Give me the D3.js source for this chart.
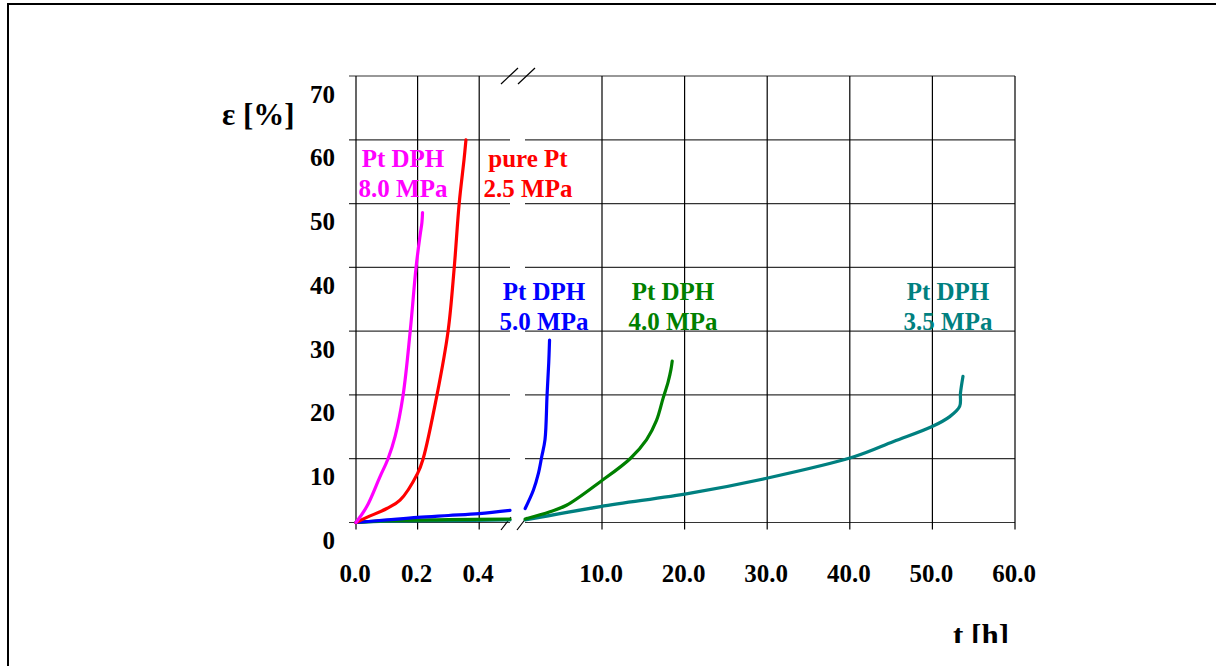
<!DOCTYPE html>
<html>
<head>
<meta charset="utf-8">
<script src="https://cdn.jsdelivr.net/npm/d3@7"></script>
<style>
  body { margin: 0; background: #fff; }
</style>
</head>
<body>
<div id="chart"></div>
<script>
// tick labels
var yTicks = [0, 10, 20, 30, 40, 50, 60, 70];
var xTicksLeft = [0.0, 0.2, 0.4];
var xTicksRight = [10, 20, 30, 40, 50, 60];

// series: [t in h, strain in %]; "left" part is the 0..0.5 h zoom, "right" the 0..60 h part
var magentaLeft = [[0, 0], [0.035, 2.5], [0.078, 7.2], [0.104, 10], [0.127, 13.5], [0.153, 20], [0.176, 30], [0.195, 40], [0.208, 45], [0.214, 47], [0.216, 48.6]];
var redLeft = [[0, 0], [0.035, 0.8], [0.1, 2.2], [0.143, 3.5], [0.2, 7.7], [0.218, 10], [0.263, 20], [0.299, 30], [0.319, 40], [0.335, 50], [0.351, 57], [0.357, 60]];
var blueLeft = [[0, 0], [0.1, 0.4], [0.2, 0.8], [0.3, 1.1], [0.4, 1.4], [0.5, 1.9]];
var blueRight = [[0.7, 2.2], [1.7, 5.1], [2.3, 7.7], [2.7, 10.3], [3.1, 13], [3.35, 20], [3.55, 25], [3.65, 28.6]];
var greenLeft = [[0, 0], [0.1, 0.3], [0.3, 0.45], [0.5, 0.55]];
var greenRight = [[0.7, 0.55], [3.7, 1.7], [5.7, 2.7], [9.8, 6.4], [13.4, 10], [15.4, 13], [16.6, 16], [17.4, 19.5], [18.0, 22], [18.35, 24], [18.5, 25.3]];
var tealLeft = [[0, 0], [0.1, 0.2], [0.3, 0.3], [0.5, 0.4]];
var tealRight = [[0.7, 0.4], [9.8, 2.5], [20.7, 4.6], [29.8, 6.9], [40.5, 10.3], [45.3, 12.7], [49.9, 15.0], [52.1, 16.6], [53.3, 18.2], [53.4, 20.3], [53.7, 22.9]];

var labels = [
    {lines: ["Pt DPH", "8.0 MPa"], color: "#ff00ff", x: 403, y: 167},
    {lines: ["pure Pt", "2.5 MPa"], color: "#ff0000", x: 528, y: 167},
    {lines: ["Pt DPH", "5.0 MPa"], color: "#0000ff", x: 544, y: 300},
    {lines: ["Pt DPH", "4.0 MPa"], color: "#008000", x: 673, y: 300},
    {lines: ["Pt DPH", "3.5 MPa"], color: "#008080", x: 948, y: 300}
];

(function() {
    var width = 1216, height = 666;
    var svg = d3.select("#chart")
        .append("svg")
        .attr("width", width)
        .attr("height", height)
        .attr("font-family", "'Liberation Serif', 'Times New Roman', serif")
        .attr("font-weight", "bold");

    // outer frame (only top and left edges visible)
    svg.append("path")
        .attr("d", "M8,666 L8,4 L1216,4")
        .attr("fill", "none")
        .attr("stroke", "#000")
        .attr("stroke-width", 2);

    var y = d3.scaleLinear().domain([0, 70]).range([522.5, 76]);
    var xL = d3.scaleLinear().domain([0, 0.5]).range([356, 510]);
    var xR = d3.scaleLinear().domain([0, 60]).range([519.4, 1015]);
    var gapStart = 510, gapEnd = 525, rightEnd = xR(60), leftStart = xL(0);

    var grid = svg.append("g").attr("stroke", "#333").attr("stroke-width", 1.2);

    // horizontal grid lines, broken at the axis gap (top one continuous)
    yTicks.forEach(function(v) {
        if (v === 70) {
            grid.append("line").attr("x1", leftStart - 7).attr("x2", rightEnd)
                .attr("y1", y(v)).attr("y2", y(v));
            return;
        }
        grid.append("line").attr("x1", leftStart - 7).attr("x2", gapStart)
            .attr("y1", y(v)).attr("y2", y(v));
        grid.append("line").attr("x1", gapEnd).attr("x2", rightEnd)
            .attr("y1", y(v)).attr("y2", y(v));
    });

    // vertical grid lines + ticks
    xTicksLeft.forEach(function(v) {
        grid.append("line").attr("x1", xL(v)).attr("x2", xL(v))
            .attr("y1", y(70)).attr("y2", y(0) + 7)
            .attr("stroke", "#000");
    });
    xTicksRight.forEach(function(v) {
        grid.append("line").attr("x1", xR(v)).attr("x2", xR(v))
            .attr("y1", y(70)).attr("y2", y(0) + 7)
            .attr("stroke", "#000");
    });

    // break marks
    var breaks = svg.append("g").attr("stroke", "#000").attr("stroke-width", 1.2);
    [[501, 84, 518, 68], [518, 84, 535, 68], [501, 530, 511, 517], [517, 530, 527, 517]].forEach(function(b) {
        breaks.append("line").attr("x1", b[0]).attr("y1", b[1]).attr("x2", b[2]).attr("y2", b[3]);
    });

    // tick labels
    svg.append("g").selectAll("text")
        .data(yTicks)
        .enter()
        .append("text")
        .attr("x", 335)
        .attr("y", function(d) { return y(d) + 26.5; })
        .attr("text-anchor", "end")
        .attr("font-size", 25)
        .text(function(d) { return d; });

    svg.append("g").selectAll("text")
        .data(xTicksLeft)
        .enter()
        .append("text")
        .attr("x", function(d) { return xL(d) - 1; })
        .attr("y", 582)
        .attr("text-anchor", "middle")
        .attr("font-size", 25)
        .text(function(d) { return d3.format(".1f")(d); });

    svg.append("g").selectAll("text")
        .data(xTicksRight)
        .enter()
        .append("text")
        .attr("x", function(d) { return xR(d) - 1; })
        .attr("y", 582)
        .attr("text-anchor", "middle")
        .attr("font-size", 25)
        .text(function(d) { return d3.format(".1f")(d); });

    // axis titles
    svg.append("text")
        .attr("x", 222).attr("y", 125)
        .attr("font-size", 31)
        .text("\u03b5 [%]");

    svg.append("clipPath").attr("id", "clipT")
        .append("rect").attr("x", 900).attr("y", 600).attr("width", 200).attr("height", 43);
    svg.append("text")
        .attr("clip-path", "url(#clipT)")
        .attr("x", 953).attr("y", 646)
        .attr("font-size", 31)
        .text("t [h]");

    // series labels
    labels.forEach(function(l) {
        var t = svg.append("text")
            .attr("text-anchor", "middle")
            .attr("fill", l.color)
            .attr("font-size", 25);
        l.lines.forEach(function(s, i) {
            t.append("tspan").attr("x", l.x).attr("y", l.y + i * 30).text(s);
        });
    });

    // curves
    var lineL = d3.line()
        .x(function(d) { return xL(d[0]); })
        .y(function(d) { return y(d[1]); })
        .curve(d3.curveCatmullRom.alpha(0.5));
    var lineR = d3.line()
        .x(function(d) { return xR(d[0]); })
        .y(function(d) { return y(d[1]); })
        .curve(d3.curveCatmullRom.alpha(0.5));

    var series = [
        {data: tealLeft, line: lineL, color: "#008080"},
        {data: greenLeft, line: lineL, color: "#008000"},
        {data: blueLeft, line: lineL, color: "#0000ff"},
        {data: redLeft, line: lineL, color: "#ff0000"},
        {data: magentaLeft, line: lineL, color: "#ff00ff"},
        {data: tealRight, line: lineR, color: "#008080"},
        {data: greenRight, line: lineR, color: "#008000"},
        {data: blueRight, line: lineR, color: "#0000ff"}
    ];
    svg.append("g").selectAll("path")
        .data(series)
        .enter()
        .append("path")
        .attr("d", function(d) { return d.line(d.data); })
        .attr("fill", "none")
        .attr("stroke", function(d) { return d.color; })
        .attr("stroke-width", 3.2)
        .attr("stroke-linecap", "round")
        .attr("stroke-linejoin", "round");
})();
</script>
</body>
</html>
